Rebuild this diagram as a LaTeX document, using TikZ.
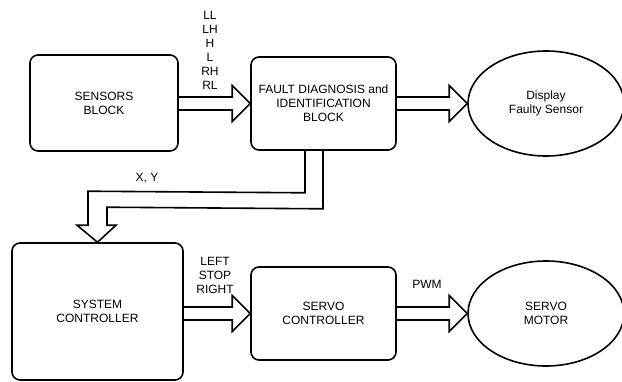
\documentclass[tikz,border=0pt]{standalone}
\usepackage{fontspec}
\setmainfont{Liberation Sans}
\usetikzlibrary{calc,shapes.geometric}
\tikzset{
  blk/.style={draw, line width=1.6pt, rounded corners=8pt, align=center, inner sep=0pt},
  oval/.style={draw, ellipse, line width=1.6pt, align=center, inner sep=0pt},
  fat/.style={draw, line width=1.6pt, line join=miter},
  lbl/.style={align=center, inner sep=0pt}
}
\newcommand{\fatarrow}[2]{%
  \draw[fat] ($(#1.east |- #2.west)+(0,-6.5)$) -- ($(#2.west)+(-18,-6.5)$) -- ($(#2.west)+(-18,-18)$) -- (#2.west)
    -- ($(#2.west)+(-18,18)$) -- ($(#2.west)+(-18,6.5)$) -- ($(#1.east |- #2.west)+(0,6.5)$);}
\begin{document}
\begin{tikzpicture}[x=1pt, y=-1pt, font=\fontsize{12}{14}\selectfont]
\useasboundingbox (0,0) rectangle (622,381);
\node[blk, minimum width=148pt, minimum height=96pt] (sens) at (104,103) {SENSORS\\BLOCK};
\node[blk, minimum width=145pt, minimum height=93pt] (fault) at (323.5,103.5) {FAULT DIAGNOSIS and\\IDENTIFICATION\\BLOCK};
\node[oval, minimum width=156pt, minimum height=105pt] (disp) at (546,103.5) {Display\\Faulty Sensor};
\node[blk, minimum width=171pt, minimum height=137pt] (sys) at (97.5,311.5) {SYSTEM\\CONTROLLER};
\node[blk, minimum width=145pt, minimum height=93pt] (servo) at (323.5,313.5) {SERVO\\CONTROLLER};
\node[oval, minimum width=156pt, minimum height=105pt] (motor) at (546,313.5) {SERVO\\MOTOR};

\fatarrow{sens}{fault}
\fatarrow{fault}{disp}
\fatarrow{sys}{servo}
\fatarrow{servo}{motor}

\draw[fat] ($(fault.south)+(-18.5,0)$) -- ($(fault.south)+(-18.5,42)$) -- ($(sys.north)+(-9.5,-51)$)
  -- ($(sys.north)+(-9.5,-17)$) -- ($(sys.north)+(-20.5,-17)$) -- (sys.north)
  -- ($(sys.north)+(18.5,-17)$) -- ($(sys.north)+(9.5,-17)$) -- ($(sys.north)+(9.5,-35)$)
  -- ($(fault.south)+(-0.5,58)$) -- ($(fault.south)+(-0.5,0)$);

\node[lbl] (sig) at (210,50.5) {LL\\LH\\H\\L\\RH\\RL};
\node[lbl] (xy) at (147,178) {X, Y};
\node[lbl] (cmd) at (215,275) {LEFT\\STOP\\RIGHT};
\node[lbl] (pwm) at (427,284) {PWM};
\end{tikzpicture}
\end{document}
